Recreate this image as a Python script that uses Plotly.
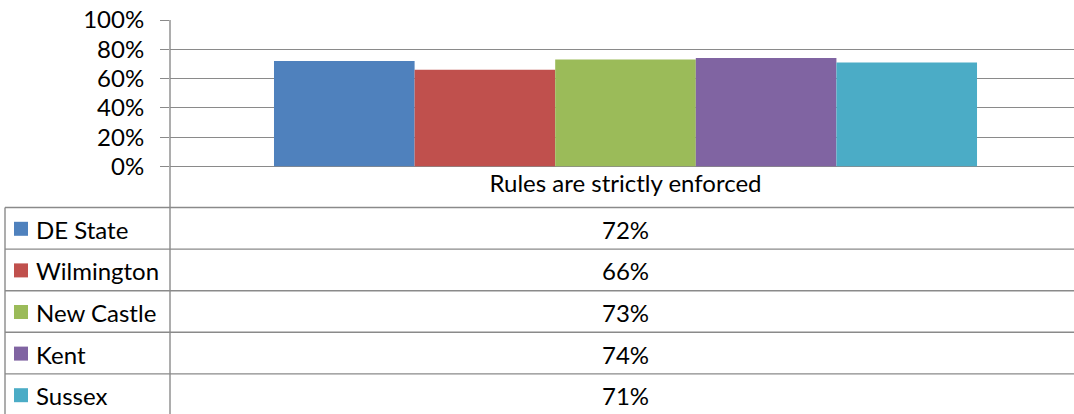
import plotly.graph_objects as go

W, H = 1074, 414

categories = ["Rules are strictly enforced"]
series_names = ["DE State", "Wilmington", "New Castle", "Kent", "Sussex"]
series_values = [0.72, 0.66, 0.73, 0.74, 0.71]
series_colors = ["#4F81BD", "#C0504D", "#9BBB59", "#8064A2", "#4BACC6"]
y_tickvals = [0, 0.2, 0.4, 0.6, 0.8, 1.0]

FONT = "Lato"
FS = 24
LINE = "#8A8A8A"


def px_x(p):
    return p / W


def px_y(p):
    return 1 - p / H


axis_x = 170
plot_top = 20
plot_bottom = 166.5
table_top = 207.5
row_h = 41.6
table_left = 5

fig = go.Figure()
for name, val, col in zip(series_names, series_values, series_colors):
    fig.add_trace(go.Bar(x=categories, y=[val], name=name,
                         marker=dict(color=col, line=dict(width=0)), showlegend=False,
                         hoverinfo="skip"))

shapes = []
annotations = []

# vertical divider (axis line continued through the data table)
shapes.append(dict(type="line", xref="paper", yref="paper", x0=px_x(axis_x), x1=px_x(axis_x),
                   y0=px_y(plot_top), y1=0, line=dict(color=LINE, width=1.4)))
# left table border
shapes.append(dict(type="line", xref="paper", yref="paper", x0=px_x(table_left), x1=px_x(table_left),
                   y0=px_y(table_top), y1=0, line=dict(color=LINE, width=1.4)))
# horizontal table lines
for i in range(len(series_names) + 1):
    yy = table_top + i * row_h
    shapes.append(dict(type="line", xref="paper", yref="paper", x0=px_x(table_left), x1=1,
                       y0=px_y(yy), y1=px_y(yy), line=dict(color=LINE, width=1.4)))

for i, (name, val, col) in enumerate(zip(series_names, series_values, series_colors)):
    cy = table_top + (i + 0.5) * row_h
    shapes.append(dict(type="rect", xref="paper", yref="paper", x0=px_x(14), x1=px_x(28),
                       y0=px_y(cy - 6.5), y1=px_y(cy + 7.5), fillcolor=col, line=dict(width=0)))
    annotations.append(dict(text=name, xref="paper", yref="paper", x=px_x(34), y=px_y(cy + 1),
                            xanchor="left", yanchor="middle", showarrow=False,
                            font=dict(family=FONT, size=FS, color="black")))
    annotations.append(dict(text=f"{round(val * 100)}%", xref="x", yref="paper", x=categories[0],
                            y=px_y(cy + 1), xanchor="center", yanchor="middle", showarrow=False,
                            font=dict(family=FONT, size=FS, color="black")))

fig.update_layout(
    template="none",
    width=W, height=H,
    margin=dict(l=0, r=0, t=0, b=0, pad=0),
    paper_bgcolor="white", plot_bgcolor="white",
    barmode="group", bargap=0.2283, bargroupgap=0,
    font=dict(family=FONT, size=FS, color="black"),
    shapes=shapes, annotations=annotations,
    xaxis=dict(domain=[px_x(axis_x), 1], range=[-0.5, 0.4923], showgrid=False, showline=False,
               zeroline=False, ticks="", automargin=False,
               tickfont=dict(family=FONT, size=FS, color="black"), anchor="y"),
    yaxis=dict(domain=[px_y(plot_bottom), px_y(plot_top)], range=[0, 1], tickvals=y_tickvals,
               tickformat=".0%", showgrid=True, gridcolor=LINE, gridwidth=1.4,
               zeroline=True, zerolinecolor=LINE, zerolinewidth=1.4, showline=False,
               ticks="outside", ticklen=9, tickcolor=LINE, tickwidth=1.4,
               ticklabelstandoff=11, automargin=False, ticklabeloverflow="allow",
               tickfont=dict(family=FONT, size=FS, color="black")),
)

fig.write_html("out.html",
               config={"displayModeBar": False},
               post_script="document.body.style.margin='0';document.body.style.overflow='hidden';")
